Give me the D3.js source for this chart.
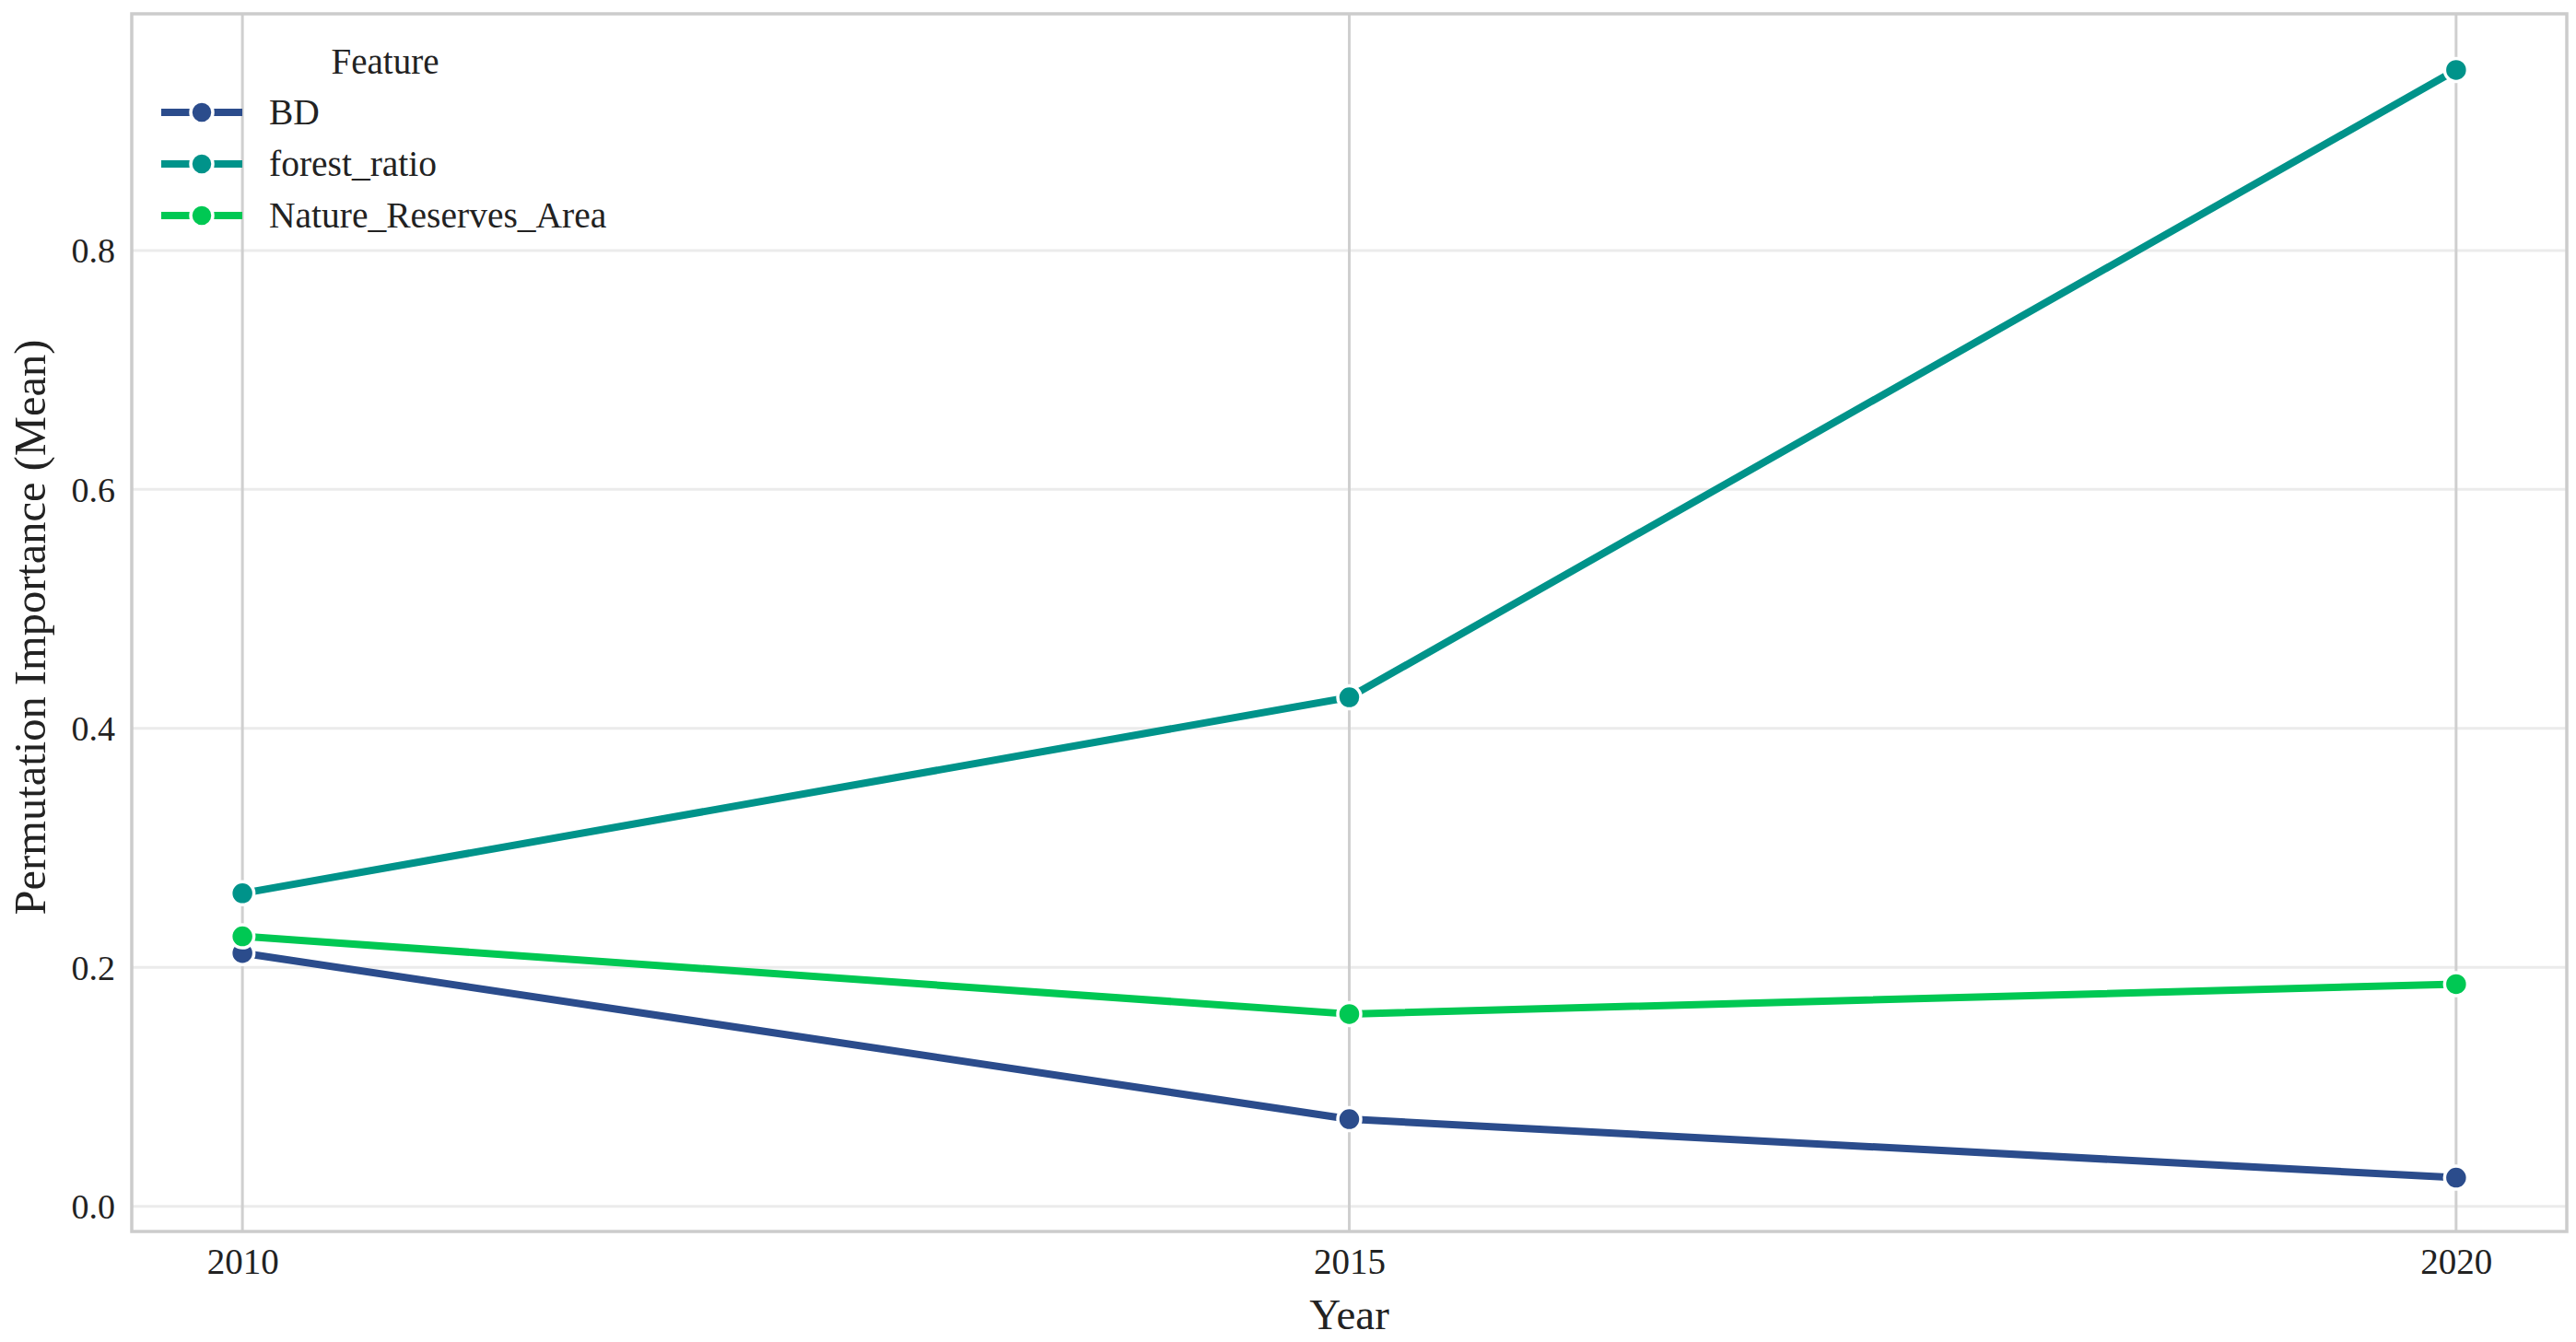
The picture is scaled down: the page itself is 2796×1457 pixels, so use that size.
<!DOCTYPE html>
<html>
<head>
<meta charset="utf-8">
<script src="https://cdn.jsdelivr.net/npm/d3@7"></script>
<style>
  html, body { margin: 0; padding: 0; background: #ffffff; }
  svg { display: block; }
  text { font-family: "Liberation Serif", "Times New Roman", serif; fill: #222222; }
</style>
</head>
<body>
<svg id="chart" width="2796" height="1457"></svg>
<script>
// ---- data ----
const years = [2010, 2015, 2020];
const features = ["BD", "forest_ratio", "Nature_Reserves_Area"];
const bdValues = [0.212, 0.073, 0.024];
const forestRatioValues = [0.262, 0.426, 0.951];
const natureReservesValues = [0.226, 0.161, 0.186];
const yTicks = [0.0, 0.2, 0.4, 0.6, 0.8];
const xTicks = [2010, 2015, 2020];
const colors = ["#2b4c8c", "#00938a", "#00c853"];
const legendTitle = "Feature";
const xLabel = "Year";
const yLabel = "Permutation Importance (Mean)";

const seriesValues = [bdValues, forestRatioValues, natureReservesValues];
const series = features.map((f, i) => ({
  name: f,
  color: colors[i],
  points: years.map((yr, j) => ({ x: yr, y: seriesValues[i][j] }))
}));

// ---- layout ----
const svg = d3.select("#chart");
const plot = { left: 143, right: 2786, top: 15, bottom: 1337 };

const x = d3.scaleLinear().domain([2009.5, 2020.5]).range([plot.left, plot.right]);
const y = d3.scaleLinear().domain([-0.021, 0.998]).range([plot.bottom, plot.top]);

// horizontal grid
svg.append("g").selectAll("line").data(yTicks).join("line")
  .attr("x1", plot.left).attr("x2", plot.right)
  .attr("y1", d => y(d)).attr("y2", d => y(d))
  .attr("stroke", "#ebebeb").attr("stroke-width", 3);

// vertical grid
svg.append("g").selectAll("line").data(xTicks).join("line")
  .attr("x1", d => x(d)).attr("x2", d => x(d))
  .attr("y1", plot.top).attr("y2", plot.bottom)
  .attr("stroke", "#cfcfcf").attr("stroke-width", 3);

// frame
svg.append("rect")
  .attr("x", plot.left).attr("y", plot.top)
  .attr("width", plot.right - plot.left).attr("height", plot.bottom - plot.top)
  .attr("fill", "none").attr("stroke", "#cccccc").attr("stroke-width", 3.5);

// axes (tick labels only)
const xAxis = d3.axisBottom(x).tickValues(xTicks).tickFormat(d3.format("d")).tickSize(0).tickPadding(0);
const gx = svg.append("g").attr("transform", `translate(0,${plot.bottom})`).call(xAxis);
gx.select(".domain").remove();
gx.selectAll("text").attr("font-size", 39).attr("dy", null).attr("y", 46)
  .style("font-family", "'Liberation Serif', serif").attr("fill", "#222");

const yAxis = d3.axisLeft(y).tickValues(yTicks).tickFormat(d3.format(".1f")).tickSize(0).tickPadding(0);
const gy = svg.append("g").attr("transform", `translate(${plot.left},0)`).call(yAxis);
gy.select(".domain").remove();
gy.selectAll("text").attr("font-size", 38).attr("x", -18).attr("dy", "0.34em")
  .style("font-family", "'Liberation Serif', serif").attr("fill", "#222");

// axis labels
svg.append("text")
  .attr("x", (plot.left + plot.right) / 2).attr("y", 1443)
  .attr("text-anchor", "middle").attr("font-size", 47).text(xLabel);

svg.append("text")
  .attr("transform", `translate(49,${(plot.top + plot.bottom) / 2 + 5}) rotate(-90)`)
  .attr("text-anchor", "middle").attr("font-size", 48.5).text(yLabel);

// lines + markers
const line = d3.line().x(d => x(d.x)).y(d => y(d.y));
series.forEach(s => {
  const g = svg.append("g");
  g.append("path").datum(s.points)
    .attr("d", line)
    .attr("fill", "none").attr("stroke", s.color)
    .attr("stroke-width", 8).attr("stroke-linejoin", "round");
  g.selectAll("circle").data(s.points).join("circle")
    .attr("cx", d => x(d.x)).attr("cy", d => y(d.y))
    .attr("r", 12.5).attr("fill", s.color)
    .attr("stroke", "#ffffff").attr("stroke-width", 3.5);
});

// legend
const legend = svg.append("g");
legend.append("text").attr("x", 418).attr("y", 80)
  .attr("text-anchor", "middle").attr("font-size", 39).text(legendTitle);
const legendRows = [122, 178, 234];
series.forEach((s, i) => {
  const row = legend.append("g").attr("transform", `translate(0,${legendRows[i]})`);
  row.append("line").attr("x1", 175).attr("x2", 263).attr("y1", 0).attr("y2", 0)
    .attr("stroke", s.color).attr("stroke-width", 8);
  row.append("circle").attr("cx", 219).attr("cy", 0).attr("r", 12)
    .attr("fill", s.color).attr("stroke", "#ffffff").attr("stroke-width", 3.5);
  row.append("text").attr("x", 292).attr("y", 13).attr("font-size", 39.5).text(s.name);
});
</script>
</body>
</html>
